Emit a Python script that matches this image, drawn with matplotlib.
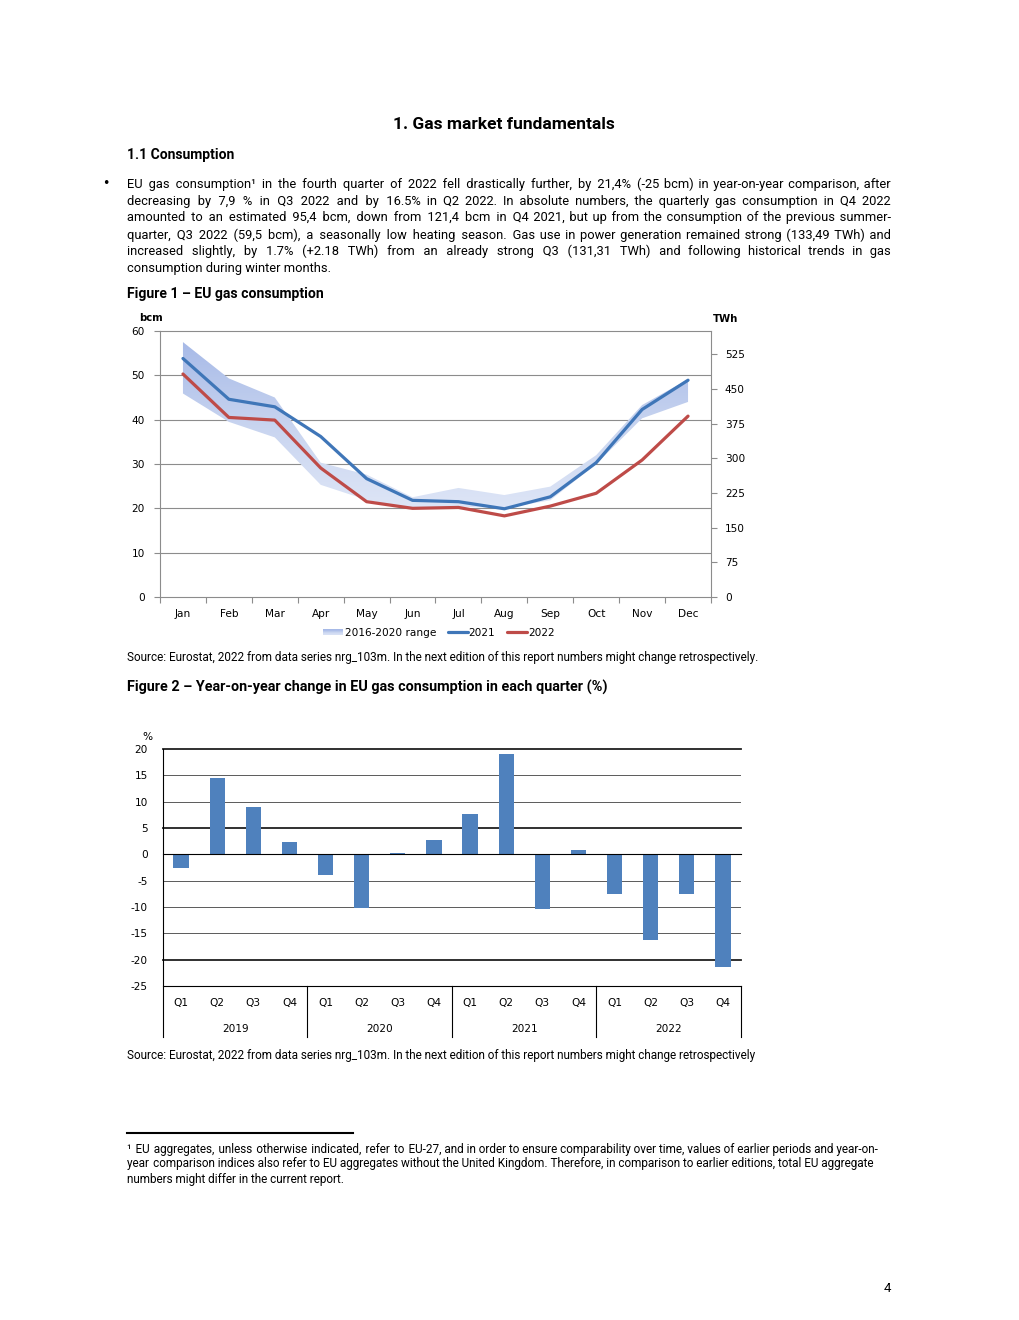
import numpy as np
import matplotlib
matplotlib.use("Agg")
import matplotlib.pyplot as plt
from matplotlib import font_manager
from matplotlib.patches import Rectangle
from matplotlib.lines import Line2D
from matplotlib.legend_handler import HandlerBase
import matplotlib.colors as mcolors

# ---------------- data ----------------
months = ["Jan", "Feb", "Mar", "Apr", "May", "Jun", "Jul", "Aug", "Sep", "Oct", "Nov", "Dec"]
cons_2021 = [53.8, 44.6, 42.9, 36.2, 26.7, 21.8, 21.5, 19.9, 22.6, 30.3, 42.3, 48.9]
cons_2022 = [50.3, 40.5, 39.9, 29.1, 21.5, 20.0, 20.2, 18.3, 20.5, 23.4, 30.9, 40.8]
range_hi = [57.5, 49.3, 45.0, 30.3, 27.6, 22.5, 24.6, 23.0, 24.9, 32.0, 43.3, 49.1]
range_lo = [45.9, 39.5, 36.0, 25.3, 21.9, 19.8, 20.4, 20.0, 21.8, 30.0, 40.3, 44.0]
twh_ticks = [0, 75, 150, 225, 300, 375, 450, 525]

quarters = ["Q1", "Q2", "Q3", "Q4"]
years = ["2019", "2020", "2021", "2022"]
yoy = [-2.6, 14.4, 8.9, 2.3,
       -3.9, -10.2, 0.2, 2.7,
       7.6, 19.1, -10.4, 0.8,
       -7.5, -16.3, -7.5, -21.4]

# ---------------- fonts ----------------
def pick(cands):
    for c in cands:
        try:
            font_manager.findfont(c, fallback_to_default=False)
            return c
        except Exception:
            pass
    return "DejaVu Sans"

TXT = pick(["Roboto", "Liberation Sans", "Noto Sans"])
TXTF = [TXT, "DejaVu Sans"]
CH = "DejaVu Sans"
CS = 7.6  # chart font size

W, H = 1020, 1320
fig = plt.figure(figsize=(W / 100, H / 100), dpi=100)
fig.patch.set_facecolor("white")
renderer = fig.canvas.get_renderer()

def fx(px):
    return px / W

def fy(py):
    return 1 - py / H

def measure(s, size, weight="normal", family=None):
    t = fig.text(0, 0, s, fontsize=size, fontweight=weight, family=family or TXTF)
    w = t.get_window_extent(renderer).width
    t.remove()
    return w

def fit(s, target, weight="normal"):
    return 10 * target / measure(s, 10, weight)

def text(px, py, s, size, weight="normal", ha="left", family=None, va="baseline"):
    return fig.text(fx(px), fy(py), s, fontsize=size, fontweight=weight, ha=ha, va=va,
                    family=family or TXTF, color="black")

HS = "\u200a"

def justify(px0, px1, py, line, size):
    words = line.split(" ")
    natural = measure(line, size)
    hw = (measure("a" + HS * 40 + "a", size) - measure("aa", size)) / 40
    ngaps = max(len(words) - 1, 1)
    total_h = int(round((px1 - px0 - natural) / hw))
    base, rem = divmod(max(total_h, 0), ngaps)
    parts = [words[0]]
    for i, w in enumerate(words[1:]):
        k = base + (1 if i < rem else 0)
        parts.append(" " + HS * k + w)
    text(px0, py, "".join(parts), size)

# ---------------- page text ----------------
title = "1. Gas market fundamentals"
text(393, 129, title, min(fit(title, 244, "bold"), 12.5), "bold")
sub = "1.1 Consumption"
text(127, 159, sub, min(fit(sub, 120, "bold"), 10), "bold")
fig.text(fx(106), fy(184), "\u2022", fontsize=9, ha="center", va="center", family="DejaVu Sans")
body = [
    "EU gas consumption\u00b9 in the fourth quarter of 2022 fell drastically further, by 21,4% (-25 bcm) in year-on-year comparison, after",
    "decreasing by 7,9 % in Q3 2022 and by 16.5% in Q2 2022. In absolute numbers, the quarterly gas consumption in Q4 2022",
    "amounted to an estimated 95,4 bcm, down from 121,4 bcm in Q4 2021, but up from the consumption of the previous summer-",
    "quarter, Q3 2022 (59,5 bcm), a seasonally low heating season. Gas use in power generation remained strong (133,49 TWh) and",
    "increased slightly, by 1.7% (+2.18 TWh) from an already strong Q3 (131,31 TWh) and following historical trends in gas",
    "consumption during winter months.",
]
bsize = fit(body[-1], 204)
ys = [188, 205, 221.5, 238.5, 255, 272]
for i, (ln, yy) in enumerate(zip(body, ys)):
    if i < len(body) - 1:
        justify(127, 891, yy, ln, bsize)
    else:
        text(127, yy, ln, bsize)

f1 = "Figure 1 \u2013 EU gas consumption"
text(127, 298, f1, fit(f1, 197, "bold"), "bold")
src1 = "Source: Eurostat, 2022 from data series nrg_103m. In the next edition of this report numbers might change retrospectively."
ssize = fit(src1, 636)
text(127, 661.5, src1, ssize)
f2 = "Figure 2 \u2013 Year-on-year change in EU gas consumption in each quarter (%)"
text(127, 692, f2, fit(f2, 483, "bold"), "bold")
src2 = "Source: Eurostat, 2022 from data series nrg_103m. In the next edition of this report numbers might change retrospectively"
text(127, 1059.5, src2, ssize)

fig.add_artist(Line2D([fx(127), fx(353)], [fy(1133), fy(1133)], color="black", lw=1.5))
foot = [
    "\u00b9 EU aggregates, unless otherwise indicated, refer to EU-27, and in order to ensure comparability over time, values of earlier periods and year-on-",
    "year comparison indices also refer to EU aggregates without the United Kingdom. Therefore, in comparison to earlier editions, total EU aggregate",
    "numbers might differ in the current report.",
]
fsize = fit(foot[2], 219)
justify(127, 878, 1152.5, foot[0], fsize)
justify(127, 873, 1167.5, foot[1], fsize)
text(127, 1182.5, foot[2], fsize)
text(887, 1292, "4", 9.5, ha="center")

# ---------------- Figure 1 ----------------
blue = "#3f76b8"
red = "#be4b48"
grey = "#8c8c8c"
ax1 = fig.add_axes([fx(160), fy(597), fx(711) - fx(160), fy(331) - fy(597)])
x = np.arange(len(months))
ax1.set_xlim(-0.5, 11.5)
ax1.set_ylim(0, 60)

poly = ax1.fill_between(x, range_lo, range_hi, facecolor="none", edgecolor="none")
cmap = mcolors.LinearSegmentedColormap.from_list("g", ["#e0e7f7", "#c9d5f0", "#a6b9e7"])
grad = np.linspace(0, 1, 256).reshape(-1, 1)
im = ax1.imshow(grad, extent=[-0.5, 11.5, 18, 58], origin="lower", aspect="auto", cmap=cmap, zorder=1)
im.set_clip_path(poly.get_paths()[0], transform=ax1.transData)

for yv in range(10, 60, 10):
    ax1.axhline(yv, color=grey, lw=0.8, zorder=0.5)
ax1.plot(x, cons_2021, color=blue, lw=2.3, zorder=3, solid_capstyle="round")
ax1.plot(x, cons_2022, color=red, lw=2.3, zorder=3, solid_capstyle="round")

for s in ax1.spines.values():
    s.set_color(grey)
    s.set_linewidth(0.8)
ax1.set_xticks(x)
ax1.set_xticklabels(months, fontsize=CS, family=CH)
ax1.set_xticks(np.arange(-0.5, 12, 1), minor=True)
ax1.tick_params(axis="x", which="major", length=0, pad=8.5)
ax1.tick_params(axis="x", which="minor", length=4, color=grey, width=0.8)
ax1.set_yticks(range(0, 61, 10))
ax1.set_yticklabels([str(v) for v in range(0, 61, 10)], fontsize=CS, family=CH)
ax1.tick_params(axis="y", length=4, color=grey, width=0.8, pad=7)

ax1r = ax1.twinx()
ax1r.set_ylim(0, 60 * 9.585)
ax1r.set_yticks(twh_ticks)
ax1r.set_yticklabels([str(v) for v in twh_ticks], fontsize=CS, family=CH)
ax1r.tick_params(axis="y", length=4, color=grey, width=0.8, pad=6)
for s in ax1r.spines.values():
    s.set_visible(False)

text(151, 318, "bcm", CS - 0.3, "bold", "center", family=CH, va="center")
text(726, 319, "TWh", CS - 0.3, "bold", "center", family=CH, va="center")

class GradHandler(HandlerBase):
    def create_artists(self, legend, orig_handle, xdescent, ydescent, width, height, fontsize, trans):
        arts = []
        n = 10
        h = height * 0.8
        y0 = -ydescent + (height - h) / 2
        for i in range(n):
            c = cmap(1 - i / (n - 1) * 0.9)
            arts.append(Rectangle((-xdescent, y0 + h - (i + 1) * h / n), width, h / n,
                                  facecolor=c, edgecolor="none", transform=trans))
        return arts

band_handle = Rectangle((0, 0), 1, 1)
h21 = Line2D([], [], color=blue, lw=2.3, solid_capstyle="round")
h22 = Line2D([], [], color=red, lw=2.3, solid_capstyle="round")
fig.legend([band_handle, h21, h22], ["2016-2020 range", "2021", "2022"],
           handler_map={band_handle: GradHandler()}, loc="center",
           bbox_to_anchor=(fx(439), fy(633)), ncol=3, frameon=False,
           prop={"family": CH, "size": CS}, handlelength=1.9, handletextpad=0.1,
           columnspacing=1.1, borderpad=0)

# ---------------- Figure 2 ----------------
barc = "#4f81bd"
ax2 = fig.add_axes([fx(163), fy(986), fx(741) - fx(163), fy(749) - fy(986)])
xb = np.arange(len(yoy))
ax2.set_xlim(-0.5, 15.5)
ax2.set_ylim(-25, 20)
for yv in range(-25, 21, 5):
    if yv in (20, 5, -20):
        ax2.axhline(yv, color="#202020", lw=1.3, zorder=0.5, clip_on=False)
    elif yv in (0, -25):
        ax2.axhline(yv, color="black", lw=0.8, zorder=2.5, clip_on=False)
    else:
        ax2.axhline(yv, color="#404040", lw=0.6, zorder=0.5)
ax2.bar(xb, yoy, width=0.42, color=barc, zorder=2)
for s in ax2.spines.values():
    s.set_visible(False)
ax2.set_xticks([])
ax2.set_yticks(range(-25, 21, 5))
ax2.set_yticklabels([str(v) for v in range(-25, 21, 5)], fontsize=CS, family=CH)
ax2.tick_params(axis="y", length=0, pad=11)

pxu = (986 - 749) / 45
ybot = -25 - (1037 - 986) / pxu
yq = -25 - (1003 - 986) / pxu
yy_ = -25 - (1029 - 986) / pxu
for xv in [-0.5, 3.5, 7.5, 11.5, 15.5]:
    ax2.plot([xv, xv], [-25 if xv != -0.5 else 20, ybot], color="black", lw=0.8, clip_on=False)
for i in range(len(yoy)):
    ax2.text(xb[i], yq, quarters[i % 4], fontsize=CS, family=CH, ha="center", va="center")
for j, yr in enumerate(years):
    ax2.text(j * 4 + 1.5, yy_, yr, fontsize=CS, family=CH, ha="center", va="center")
text(147, 737, "%", CS, ha="center", family=CH, va="center")

fig.savefig("out.png", dpi=100, facecolor="white")
